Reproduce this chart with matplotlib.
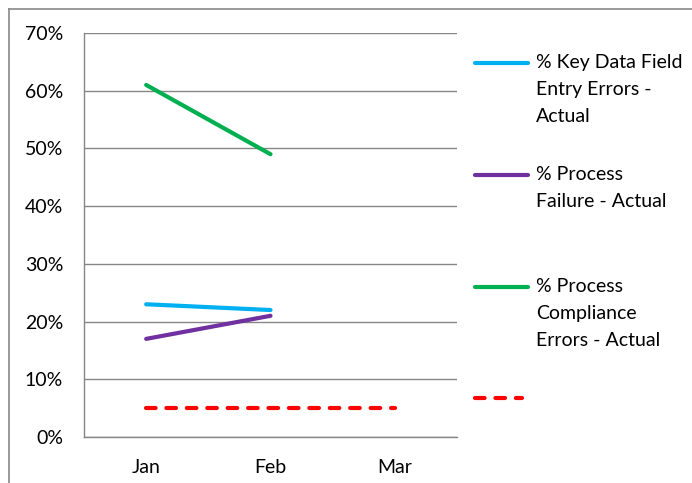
import matplotlib
matplotlib.use("Agg")
import matplotlib.pyplot as plt
from matplotlib.lines import Line2D
from matplotlib.ticker import PercentFormatter

months = ["Jan", "Feb", "Mar"]
key_data_errors = [0.23, 0.22, None]
process_failure = [0.17, 0.21, None]
compliance_errors = [0.61, 0.49, None]
target = [0.05, 0.05, 0.05]

labels = ["% Key Data Field\nEntry Errors -\nActual",
          "% Process\nFailure - Actual",
          "% Process\nCompliance\nErrors - Actual",
          ""]
colors = ["#00B0F0", "#7030A0", "#00B050", "#FF0000"]

W, H = 692, 483
plt.rcParams['font.family'] = ['Lato', 'DejaVu Sans']
fig = plt.figure(figsize=(W / 100, H / 100), dpi=100)
ax = fig.add_axes([84 / W, 1 - 437 / H, (457 - 84) / W, (437 - 33) / H])

x = list(range(len(months)))
series = [key_data_errors, process_failure, compliance_errors]
for vals, c in zip(series, colors[:3]):
    xs = [i for i, v in zip(x, vals) if v is not None]
    ys = [v for v in vals if v is not None]
    ax.plot(xs, ys, color=c, lw=3, solid_capstyle='round', zorder=3)
ax.plot(x, target, color=colors[3], lw=3, dashes=(2.3, 2.6),
        dash_capstyle='round', zorder=3)

ax.set_xlim(-0.5, 2.5)
ax.set_ylim(0, 0.70)
ax.set_yticks([i / 10 for i in range(8)])
ax.yaxis.set_major_formatter(PercentFormatter(1.0, decimals=0))
ax.set_xticks(x)
ax.set_xticklabels(months)
ax.tick_params(axis='both', length=0, labelsize=14, colors='#000000')
ax.tick_params(axis='y', pad=15)
ax.tick_params(axis='x', pad=16)
grid_c = '#868686'
ax.grid(axis='y', color=grid_c, lw=1)
ax.set_axisbelow(True)
for s in ['top', 'right']:
    ax.spines[s].set_visible(False)
for s in ['left', 'bottom']:
    ax.spines[s].set_color(grid_c)
    ax.spines[s].set_linewidth(1)

# Outer frame (left and top edges)
fig.add_artist(Line2D([9 / W, 9 / W], [0, 1 - 9 / H], color='#888888', lw=1.2,
                      transform=fig.transFigure))
fig.add_artist(Line2D([9 / W, 1], [1 - 9 / H, 1 - 9 / H], color='#888888', lw=1.2,
                      transform=fig.transFigure))

# Legend drawn manually (handle aligned with first line of text)
legend_y = [63, 175, 287, 398]
for lab, c, yy in zip(labels, colors, legend_y):
    yf = 1 - yy / H
    if c == colors[3]:
        fig.add_artist(Line2D([475 / W, 522 / W], [yf, yf], color=c, lw=3,
                              dashes=(2.3, 2.6), dash_capstyle='round',
                              transform=fig.transFigure))
    else:
        fig.add_artist(Line2D([475 / W, 528 / W], [yf, yf], color=c, lw=3,
                              solid_capstyle='round', transform=fig.transFigure))
    if lab:
        fig.text(536 / W, 1 - (yy - 9) / H, lab, ha='left', va='top',
                 fontsize=14, linespacing=1.72, color='#000000')

fig.savefig("out.png", dpi=100)
